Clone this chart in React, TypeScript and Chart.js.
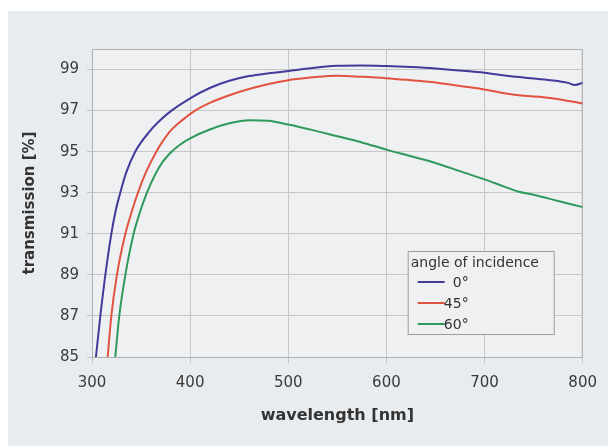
import React, { useEffect, useRef } from 'react';
import { Chart, registerables } from 'chart.js';

Chart.register(...registerables);

// 0° angle of incidence
const wl0 = [304, 308.5, 313.6, 319.7, 324, 328.8, 335, 344, 359, 370, 381, 400, 420, 440, 460, 480, 500, 520, 550, 575, 600, 625, 650, 675, 700, 725, 750, 770, 785, 792, 800];
const t0 = [85, 87, 89, 91, 92.1, 93, 94, 95, 96, 96.55, 97, 97.6, 98.1, 98.45, 98.68, 98.82, 98.93, 99.05, 99.18, 99.2, 99.17, 99.12, 99.05, 98.95, 98.84, 98.68, 98.56, 98.47, 98.35, 98.25, 98.35];

// 45° angle of incidence
const wl45 = [316, 319.7, 325.4, 334, 340, 346.8, 355, 365.5, 372, 379.7, 391, 405, 420, 440, 460, 480, 500, 525, 550, 575, 600, 625, 650, 675, 700, 720, 740, 760, 780, 800];
const t45 = [85, 87, 89, 91, 92, 93, 94, 95, 95.5, 96, 96.5, 97, 97.38, 97.75, 98.05, 98.3, 98.48, 98.62, 98.7, 98.65, 98.58, 98.48, 98.37, 98.2, 98.03, 97.85, 97.72, 97.65, 97.52, 97.35];

// 60° angle of incidence
const wl60 = [323.7, 327.8, 334, 342.4, 348.5, 356, 364, 372, 380, 390, 400, 420, 440, 460, 480, 500, 525, 550, 575, 600, 625, 650, 675, 700, 720, 735, 750, 775, 800];
const t60 = [85, 87, 89, 91, 92, 93, 93.85, 94.5, 94.95, 95.35, 95.65, 96.08, 96.38, 96.53, 96.5, 96.32, 96.05, 95.75, 95.45, 95.1, 94.78, 94.45, 94.05, 93.65, 93.3, 93.05, 92.9, 92.6, 92.3];

const seriesLabels = ['0°', '45°', '60°'];
const seriesColors = ['#45399a', '#e2533f', '#2f9a5b'];
const legendTitle = 'angle of incidence';
const yTickValues = [85, 87, 89, 91, 93, 95, 97, 99];
const xTitle = 'wavelength [nm]';
const yTitle = 'transmission [%]';

const FONT = "'DejaVu Sans', sans-serif";
const PLOT_BG = '#eef0f2';

export default function App() {
  const ref = useRef<HTMLCanvasElement>(null);

  useEffect(() => {
    document.body.style.margin = '0';
    document.body.style.background = '#ffffff';
    if (!ref.current) return;

    const plotBg = {
      id: 'plotBg',
      beforeDraw(chart: any) {
        const { ctx, chartArea: a } = chart;
        ctx.save();
        ctx.fillStyle = PLOT_BG;
        ctx.fillRect(a.left, a.top, a.right - a.left, a.bottom - a.top);
        ctx.restore();
      },
      beforeDatasetsDraw(chart: any) {
        const { ctx, chartArea: a } = chart;
        ctx.save();
        ctx.strokeStyle = '#aeb0b2';
        ctx.lineWidth = 1;
        ctx.strokeRect(a.left + 0.5, a.top + 0.5, a.right - a.left - 1, a.bottom - a.top);
        ctx.restore();
      },
    };

    const boxLegend = {
      id: 'boxLegend',
      afterDraw(chart: any) {
        const { ctx, chartArea: a } = chart;
        const w = 146;
        const h = 83;
        const x = a.right - 29 - w;
        const y = a.bottom - 23 - h;
        ctx.save();
        ctx.fillStyle = PLOT_BG;
        ctx.fillRect(x, y, w, h);
        ctx.strokeStyle = '#9a9c9e';
        ctx.lineWidth = 1;
        ctx.strokeRect(x + 0.5, y + 0.5, w, h);
        ctx.font = `14px ${FONT}`;
        ctx.fillStyle = '#333333';
        ctx.textBaseline = 'middle';
        ctx.textAlign = 'left';
        ctx.fillText(legendTitle, x + 3, y + 12);
        const rows = [31, 52, 73];
        chart.data.datasets.forEach((ds: any, i: number) => {
          const cy = y + rows[i];
          ctx.strokeStyle = ds.borderColor;
          ctx.lineWidth = 2;
          ctx.beginPath();
          ctx.moveTo(x + 10, cy);
          ctx.lineTo(x + 37, cy);
          ctx.stroke();
          ctx.textAlign = 'right';
          ctx.fillStyle = '#333333';
          ctx.fillText(ds.label, x + 61, cy + 1);
        });
        ctx.restore();
      },
    };

    const makeData = (xs: number[], ys: number[]) => xs.map((x, i) => ({ x, y: ys[i] }));
    const series = [makeData(wl0, t0), makeData(wl45, t45), makeData(wl60, t60)];

    const chart = new Chart(ref.current, {
      type: 'line',
      data: {
        datasets: series.map((d, i) => ({
          label: seriesLabels[i],
          data: d,
          borderColor: seriesColors[i],
          backgroundColor: seriesColors[i],
          borderWidth: 2,
          pointRadius: 0,
          cubicInterpolationMode: 'monotone' as const,
          fill: false,
        })),
      },
      options: {
        animation: false,
        responsive: true,
        maintainAspectRatio: false,
        layout: { padding: { left: 0, right: 21, top: 38, bottom: 0 } },
        plugins: {
          legend: { display: false },
          tooltip: { enabled: false },
        },
        scales: {
          x: {
            type: 'linear',
            min: 300,
            max: 800,
            afterFit: (s: any) => { s.height = 89; },
            grid: { color: '#c4c6c8', tickLength: 6, drawTicks: true },
            border: { display: false },
            ticks: {
              stepSize: 100,
              font: { family: FONT, size: 15 },
              color: '#3a3a3a',
              padding: 11,
              maxRotation: 0,
            },
            title: {
              display: true,
              text: xTitle,
              font: { family: FONT, size: 16, weight: 'bold' },
              color: '#333333',
              padding: { top: 0, bottom: 21 },
            },
          },
          y: {
            type: 'linear',
            min: 85,
            max: 100,
            afterBuildTicks: (s: any) => { s.ticks = yTickValues.map((v) => ({ value: v })); },
            afterFit: (s: any) => { s.width = 84; },
            grid: { color: '#c4c6c8', tickLength: 5, drawTicks: true },
            border: { display: false },
            ticks: {
              font: { family: FONT, size: 15 },
              color: '#3a3a3a',
              padding: 8,
            },
            title: {
              display: true,
              text: yTitle,
              font: { family: FONT, size: 15, weight: 'bold' },
              color: '#333333',
              padding: { top: 13, bottom: 0 },
            },
          },
        },
      },
      plugins: [plotBg, boxLegend],
    });

    return () => chart.destroy();
  }, []);

  return (
    <div
      style={{
        position: 'absolute',
        left: 8,
        top: 11,
        width: 600,
        height: 435,
        background: '#e9ecef',
      }}
    >
      <canvas ref={ref} />
    </div>
  );
}
